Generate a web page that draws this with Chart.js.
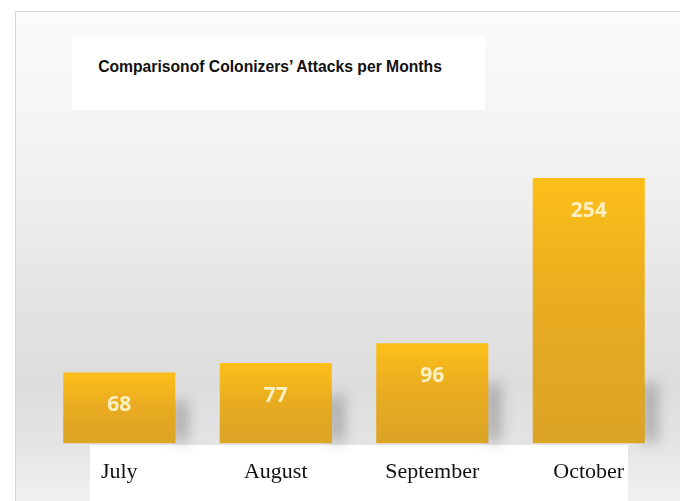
<!DOCTYPE html>
<html lang="en">
<head>
  <meta charset="UTF-8" />
  <title>Comparison of Colonizers' Attacks per Months</title>
  <script src="https://cdn.jsdelivr.net/npm/chart.js"></script>
  <style>
    body { margin: 0; background: #fff; }
    .frame { position: relative; width: 680px; height: 501px; overflow: hidden; background: #fff; }
    .panel {
      position: absolute; left: 15px; top: 11px; right: 0; bottom: 0;
      border-top: 1px solid #d6d6d6; border-left: 1px solid #d6d6d6;
      background: linear-gradient(to bottom, #fbfbfb 0%, #f6f6f6 18%, #eeeeee 40%, #e2e2e2 62%, #dddddd 76%, #e4e4e4 88%, #f1f1f1 100%);
    }
    .title-box { position: absolute; left: 72px; top: 36px; width: 413px; height: 74px; background: #fff; }
    .title-box span {
      position: absolute; left: 0; width: 396px; top: 22px; text-align: center;
      font: bold 15.7px "Liberation Sans", Arial, sans-serif; color: #111;
    }
    .label-box { position: absolute; left: 90px; top: 445px; width: 538px; height: 56px; background: #fff; }
    .chart-container { position: absolute; left: 0; top: 0; width: 680px; height: 501px; }
  </style>
</head>
<body>
  <div class="frame">
    <div class="panel"></div>
    <div class="title-box"><span>Comparisonof Colonizers’ Attacks per Months</span></div>
    <div class="label-box"></div>
    <div class="chart-container">
      <canvas id="attacks-chart" width="680" height="501"></canvas>
    </div>
  </div>

  <script>
    // chart data
    const months = ['July', 'August', 'September', 'October'];
    const attacks = [68, 77, 96, 254];

    // golden gradient for every bar, from its top down to the baseline
    const barFill = (ctx) => {
      const chart = ctx.chart;
      const y = chart.scales.y;
      if (!y || !ctx.parsed) return '#eab022';
      const top = y.getPixelForValue(ctx.parsed.y);
      const base = y.getPixelForValue(0);
      if (!isFinite(top) || !isFinite(base) || top === base) return '#eab022';
      const g = chart.ctx.createLinearGradient(0, top, 0, base);
      g.addColorStop(0, '#fcbf18');
      g.addColorStop(0.5, '#e8ab21');
      g.addColorStop(1, '#dca426');
      return g;
    };

    // soft shadow at the lower right of each bar
    const barShadow = {
      id: 'barShadow',
      beforeDatasetsDraw(chart) {
        const ctx = chart.ctx;
        const meta = chart.getDatasetMeta(0);
        ctx.save();
        meta.data.forEach(bar => {
          const h = Math.min(60, (bar.base - bar.y) * 0.6);
          ctx.shadowColor = 'rgba(60,60,60,0.35)';
          ctx.shadowBlur = 14;
          ctx.shadowOffsetX = 12;
          ctx.shadowOffsetY = 0;
          ctx.fillStyle = '#999';
          ctx.fillRect(bar.x + bar.width / 2 - 14, bar.base - h, 14, h - 2);
        });
        ctx.restore();
      }
    };

    // value labels near the top of each bar
    const valueLabels = {
      id: 'valueLabels',
      afterDatasetsDraw(chart) {
        const ctx = chart.ctx;
        const meta = chart.getDatasetMeta(0);
        ctx.save();
        ctx.font = 'bold 21px "Open Sans", sans-serif';
        ctx.fillStyle = '#fdf0c4';
        ctx.textAlign = 'center';
        ctx.textBaseline = 'middle';
        meta.data.forEach((bar, i) => {
          ctx.fillText(String(attacks[i]), bar.x, bar.y + 33);
        });
        ctx.restore();
      }
    };

    new Chart(document.getElementById('attacks-chart'), {
      type: 'bar',
      data: {
        labels: months,
        datasets: [{
          label: 'Attacks',
          data: attacks,
          backgroundColor: barFill,
          borderWidth: 0,
          barPercentage: 0.716,
          categoryPercentage: 1
        }]
      },
      options: {
        responsive: false,
        animation: false,
        layout: { padding: { left: 41, right: 13, top: 132, bottom: 1 } },
        plugins: { legend: { display: false }, tooltip: { enabled: false } },
        scales: {
          x: {
            grid: { display: false, drawTicks: false },
            border: { display: false },
            ticks: {
              padding: 15,
              color: '#111',
              font: { family: '"Liberation Serif", "Times New Roman", serif', size: 22 }
            }
          },
          y: { display: false, min: 0, max: 298 }
        }
      },
      plugins: [barShadow, valueLabels]
    });
  </script>
</body>
</html>
